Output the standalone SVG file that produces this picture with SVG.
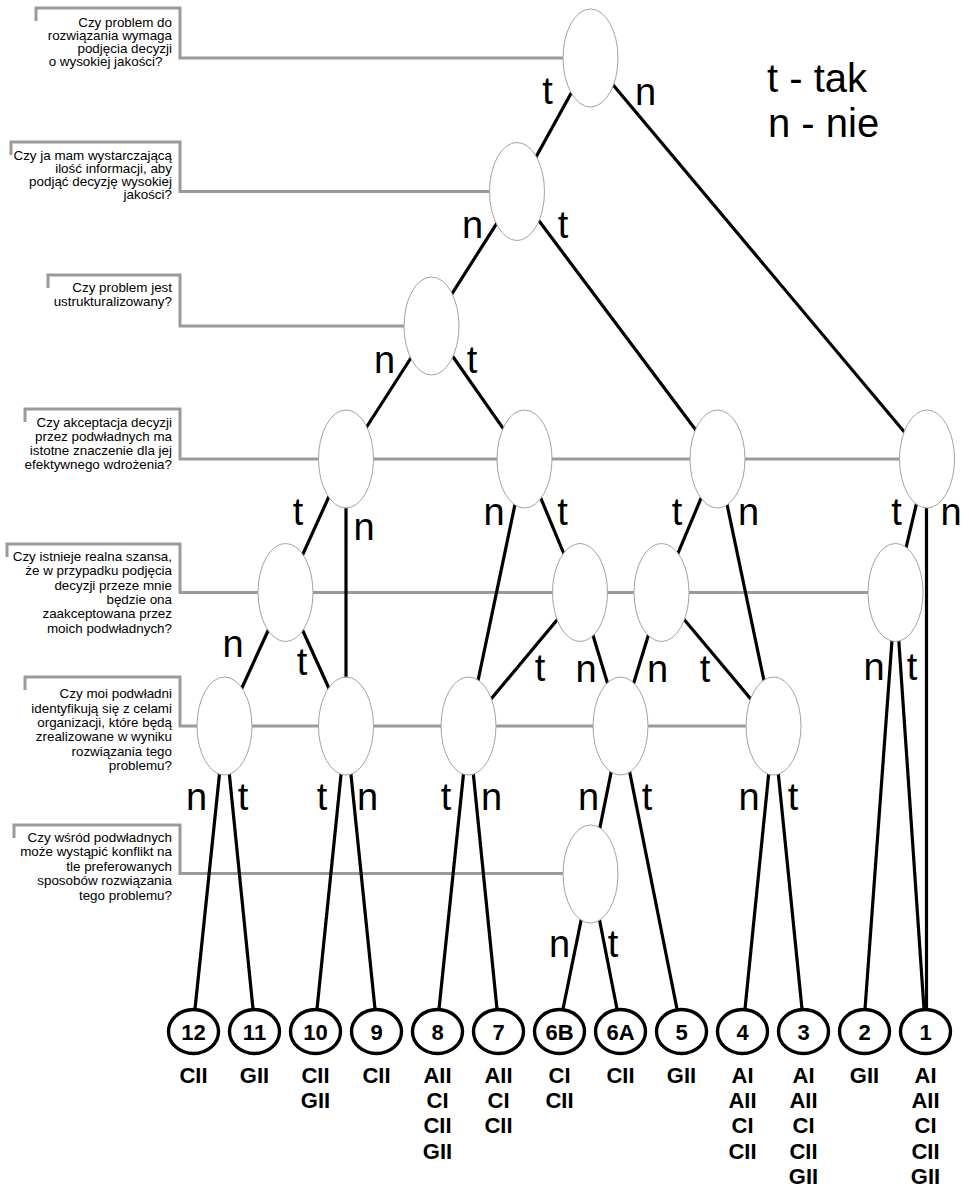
<svg xmlns="http://www.w3.org/2000/svg" width="969" height="1187" viewBox="0 0 969 1187">
<style>
.bg{fill:#fff}
.q{font-family:"Liberation Sans",Arial,sans-serif;font-size:13.4px;text-anchor:end;fill:#000}
.br{fill:none;stroke:#9a9a9a;stroke-width:3}
.nd{fill:#fff;stroke:#a3a3a3;stroke-width:1}
.e{stroke:#000;stroke-width:3.2;fill:none}
.lb{font-family:"Liberation Sans",Arial,sans-serif;font-size:38px;text-anchor:middle;fill:#000}
.lg{font-family:"Liberation Sans",Arial,sans-serif;font-size:40px;fill:#000}
.lf{fill:#fff;stroke:#000;stroke-width:3.4}
.ln{font-family:"Liberation Sans",Arial,sans-serif;font-weight:bold;font-size:22px;text-anchor:middle;fill:#000}
</style>
<rect class="bg" x="0" y="0" width="969" height="1187"/>

<g id="questions">
<g id="q1">
<path class="br" d="M36,21 V8 H180 V58 H563"/>
<text class="q"><tspan x="172" y="26.5">Czy problem do</tspan><tspan x="172" y="39.5">rozwiązania wymaga</tspan><tspan x="172" y="52.5">podjęcia decyzji</tspan><tspan x="162.5" y="65.5">o wysokiej jakości?</tspan></text>
</g>
<g id="q2">
<path class="br" d="M11,155 V142 H180 V191.5 H490"/>
<text class="q"><tspan x="172" y="159.5">Czy ja mam wystarczającą</tspan><tspan x="172" y="172.8">ilość informacji, aby</tspan><tspan x="172" y="186.1">podjąć decyzję wysokiej</tspan><tspan x="172" y="199.4">jakości?</tspan></text>
</g>
<g id="q3">
<path class="br" d="M48,288 V275 H180 V326 H404"/>
<text class="q"><tspan x="172" y="292.3">Czy problem jest</tspan><tspan x="172" y="306">ustrukturalizowany?</tspan></text>
</g>
<g id="q4">
<path class="br" d="M25,422 V409 H180 V459 H900"/>
<text class="q"><tspan x="172" y="426.7">Czy akceptacja decyzji</tspan><tspan x="172" y="440.9">przez podwładnych ma</tspan><tspan x="172" y="455.1">istotne znaczenie dla jej</tspan><tspan x="172" y="469.3">efektywnego wdrożenia?</tspan></text>
</g>
<g id="q5">
<path class="br" d="M7,557 V544 H180 V592.5 H868"/>
<text class="q"><tspan x="172" y="560.7">Czy istnieje realna szansa,</tspan><tspan x="172" y="575.1">że w przypadku podjęcia</tspan><tspan x="172" y="589.5">decyzji przeze mnie</tspan><tspan x="172" y="603.9">będzie ona</tspan><tspan x="172" y="618.3">zaakceptowana przez</tspan><tspan x="172" y="632.7">moich podwładnych?</tspan></text>
</g>
<g id="q6">
<path class="br" d="M25,690 V677 H180 V726 H746"/>
<text class="q"><tspan x="172" y="698.3">Czy moi podwładni</tspan><tspan x="172" y="712.6">identyfikują się z celami</tspan><tspan x="172" y="726.9">organizacji, które będą</tspan><tspan x="172" y="741.2">zrealizowane w wyniku</tspan><tspan x="172" y="755.5">rozwiązania tego</tspan><tspan x="172" y="769.8">problemu?</tspan></text>
</g>
<g id="q7">
<path class="br" d="M14,838 V825 H180 V873.5 H563"/>
<text class="q"><tspan x="172" y="841.7">Czy wśród podwładnych</tspan><tspan x="172" y="856.2">może wystąpić konflikt na</tspan><tspan x="172" y="870.7">tle preferowanych</tspan><tspan x="172" y="885.2">sposobów rozwiązania</tspan><tspan x="172" y="899.7">tego problemu?</tspan></text>
</g>
</g>

<g id="legend">
<text class="lg" x="767" y="92">t - tak</text>
<text class="lg" x="768" y="137">n - nie</text>
</g>

<g id="connectors">
<line class="e" x1="590.5" y1="58" x2="517" y2="191.5"/>
<line class="e" x1="590.5" y1="58" x2="927" y2="459"/>
<line class="e" x1="517" y1="191.5" x2="431.5" y2="326"/>
<line class="e" x1="517" y1="191.5" x2="717.5" y2="459"/>
<line class="e" x1="431.5" y1="326" x2="346" y2="459"/>
<line class="e" x1="431.5" y1="326" x2="524.5" y2="459"/>
<line class="e" x1="346" y1="459" x2="285.5" y2="592.5"/>
<line class="e" x1="346" y1="459" x2="346" y2="726"/>
<line class="e" x1="524.5" y1="459" x2="468.5" y2="726"/>
<line class="e" x1="524.5" y1="459" x2="580" y2="592.5"/>
<line class="e" x1="717.5" y1="459" x2="661.5" y2="592.5"/>
<line class="e" x1="717.5" y1="459" x2="773.5" y2="726"/>
<line class="e" x1="927" y1="459" x2="895.5" y2="592.5"/>
<line class="e" x1="926.5" y1="459" x2="926.5" y2="1009"/>
<line class="e" x1="285.5" y1="592.5" x2="224.5" y2="726"/>
<line class="e" x1="285.5" y1="592.5" x2="346" y2="726"/>
<line class="e" x1="580" y1="592.5" x2="468.5" y2="726"/>
<line class="e" x1="580" y1="592.5" x2="620.5" y2="726"/>
<line class="e" x1="661.5" y1="592.5" x2="620.5" y2="726"/>
<line class="e" x1="661.5" y1="592.5" x2="773.5" y2="726"/>
<line class="e" x1="895.5" y1="592.5" x2="865" y2="1009"/>
<line class="e" x1="895.5" y1="592.5" x2="924" y2="1009"/>
<line class="e" x1="224.5" y1="726" x2="195" y2="1009"/>
<line class="e" x1="224.5" y1="726" x2="253" y2="1009"/>
<line class="e" x1="346" y1="726" x2="317" y2="1009"/>
<line class="e" x1="346" y1="726" x2="375" y2="1009"/>
<line class="e" x1="468.5" y1="726" x2="439" y2="1009"/>
<line class="e" x1="468.5" y1="726" x2="497" y2="1009"/>
<line class="e" x1="620.5" y1="726" x2="590.5" y2="874"/>
<line class="e" x1="620.5" y1="726" x2="677" y2="1009"/>
<line class="e" x1="773.5" y1="726" x2="745" y2="1009"/>
<line class="e" x1="773.5" y1="726" x2="802" y2="1009"/>
<line class="e" x1="590.5" y1="874" x2="563" y2="1009"/>
<line class="e" x1="590.5" y1="874" x2="617" y2="1009"/>
</g>

<g id="edge-labels">
<text class="lb" x="547.5" y="103.5">t</text>
<text class="lb" x="645.5" y="105">n</text>
<text class="lb" x="472.5" y="238">n</text>
<text class="lb" x="563" y="238">t</text>
<text class="lb" x="384.5" y="373">n</text>
<text class="lb" x="472" y="373">t</text>
<text class="lb" x="298" y="525">t</text>
<text class="lb" x="364" y="540">n</text>
<text class="lb" x="494" y="525">n</text>
<text class="lb" x="562.5" y="525">t</text>
<text class="lb" x="677" y="525">t</text>
<text class="lb" x="748.5" y="525">n</text>
<text class="lb" x="896.5" y="525">t</text>
<text class="lb" x="951" y="525">n</text>
<text class="lb" x="233" y="657">n</text>
<text class="lb" x="302" y="675">t</text>
<text class="lb" x="540" y="681">t</text>
<text class="lb" x="586" y="682">n</text>
<text class="lb" x="657.5" y="682">n</text>
<text class="lb" x="705" y="682">t</text>
<text class="lb" x="874" y="680">n</text>
<text class="lb" x="912" y="680">t</text>
<text class="lb" x="196.5" y="810">n</text>
<text class="lb" x="243" y="810">t</text>
<text class="lb" x="322" y="810">t</text>
<text class="lb" x="367.5" y="810">n</text>
<text class="lb" x="446" y="810">t</text>
<text class="lb" x="491.5" y="810">n</text>
<text class="lb" x="588.5" y="810">n</text>
<text class="lb" x="647" y="810">t</text>
<text class="lb" x="749" y="810">n</text>
<text class="lb" x="793" y="810">t</text>
<text class="lb" x="559.5" y="957">n</text>
<text class="lb" x="613" y="957">t</text>
</g>

<g id="nodes">
<ellipse id="nA" class="nd" cx="590.5" cy="58" rx="27.5" ry="49"/>
<ellipse id="nB" class="nd" cx="517" cy="191.5" rx="27.5" ry="49"/>
<ellipse id="nC" class="nd" cx="431.5" cy="326" rx="27.5" ry="49"/>
<ellipse id="nD1" class="nd" cx="346" cy="459" rx="27.5" ry="49"/>
<ellipse id="nD2" class="nd" cx="524.5" cy="459" rx="27.5" ry="49"/>
<ellipse id="nD3" class="nd" cx="717.5" cy="459" rx="27.5" ry="49"/>
<ellipse id="nD4" class="nd" cx="927" cy="459" rx="27.5" ry="49"/>
<ellipse id="nE1" class="nd" cx="285.5" cy="592.5" rx="27.5" ry="49"/>
<ellipse id="nE2" class="nd" cx="580" cy="592.5" rx="27.5" ry="49"/>
<ellipse id="nE3" class="nd" cx="661.5" cy="592.5" rx="27.5" ry="49"/>
<ellipse id="nE4" class="nd" cx="895.5" cy="592.5" rx="27.5" ry="49"/>
<ellipse id="nF1" class="nd" cx="224.5" cy="726" rx="27.5" ry="49"/>
<ellipse id="nF2" class="nd" cx="346" cy="726" rx="27.5" ry="49"/>
<ellipse id="nF3" class="nd" cx="468.5" cy="726" rx="27.5" ry="49"/>
<ellipse id="nF4" class="nd" cx="620.5" cy="726" rx="27.5" ry="49"/>
<ellipse id="nF5" class="nd" cx="773.5" cy="726" rx="27.5" ry="49"/>
<ellipse id="nG" class="nd" cx="590.5" cy="874" rx="27.5" ry="49"/>
</g>

<g id="leaves">
<g id="leaf12"><ellipse class="lf" cx="193.5" cy="1031.5" rx="25" ry="22"/><text class="ln" x="193.5" y="1040">12</text><text class="ln" x="193.5" y="1082.7">CII</text></g>
<g id="leaf11"><ellipse class="lf" cx="254.5" cy="1031.5" rx="25" ry="22"/><text class="ln" x="254.5" y="1040">11</text><text class="ln" x="254.5" y="1082.7">GII</text></g>
<g id="leaf10"><ellipse class="lf" cx="315.5" cy="1031.5" rx="25" ry="22"/><text class="ln" x="315.5" y="1040">10</text><text class="ln"><tspan x="315.5" y="1082.7">CII</tspan><tspan x="315.5" y="1108">GII</tspan></text></g>
<g id="leaf9"><ellipse class="lf" cx="376.5" cy="1031.5" rx="25" ry="22"/><text class="ln" x="376.5" y="1040">9</text><text class="ln" x="376.5" y="1082.7">CII</text></g>
<g id="leaf8"><ellipse class="lf" cx="437.5" cy="1031.5" rx="25" ry="22"/><text class="ln" x="437.5" y="1040">8</text><text class="ln"><tspan x="437.5" y="1082.7">AII</tspan><tspan x="437.5" y="1108">CI</tspan><tspan x="437.5" y="1133.3">CII</tspan><tspan x="437.5" y="1158.6">GII</tspan></text></g>
<g id="leaf7"><ellipse class="lf" cx="498.5" cy="1031.5" rx="25" ry="22"/><text class="ln" x="498.5" y="1040">7</text><text class="ln"><tspan x="498.5" y="1082.7">AII</tspan><tspan x="498.5" y="1108">CI</tspan><tspan x="498.5" y="1133.3">CII</tspan></text></g>
<g id="leaf6B"><ellipse class="lf" cx="559.5" cy="1031.5" rx="25" ry="22"/><text class="ln" x="559.5" y="1040">6B</text><text class="ln"><tspan x="559.5" y="1082.7">CI</tspan><tspan x="559.5" y="1108">CII</tspan></text></g>
<g id="leaf6A"><ellipse class="lf" cx="620.5" cy="1031.5" rx="25" ry="22"/><text class="ln" x="620.5" y="1040">6A</text><text class="ln" x="620.5" y="1082.7">CII</text></g>
<g id="leaf5"><ellipse class="lf" cx="681.5" cy="1031.5" rx="25" ry="22"/><text class="ln" x="681.5" y="1040">5</text><text class="ln" x="681.5" y="1082.7">GII</text></g>
<g id="leaf4"><ellipse class="lf" cx="742.5" cy="1031.5" rx="25" ry="22"/><text class="ln" x="742.5" y="1040">4</text><text class="ln"><tspan x="742.5" y="1082.7">AI</tspan><tspan x="742.5" y="1108">AII</tspan><tspan x="742.5" y="1133.3">CI</tspan><tspan x="742.5" y="1158.6">CII</tspan></text></g>
<g id="leaf3"><ellipse class="lf" cx="803.5" cy="1031.5" rx="25" ry="22"/><text class="ln" x="803.5" y="1040">3</text><text class="ln"><tspan x="803.5" y="1082.7">AI</tspan><tspan x="803.5" y="1108">AII</tspan><tspan x="803.5" y="1133.3">CI</tspan><tspan x="803.5" y="1158.6">CII</tspan><tspan x="803.5" y="1183.9">GII</tspan></text></g>
<g id="leaf2"><ellipse class="lf" cx="864.5" cy="1031.5" rx="25" ry="22"/><text class="ln" x="864.5" y="1040">2</text><text class="ln" x="864.5" y="1082.7">GII</text></g>
<g id="leaf1"><ellipse class="lf" cx="925.5" cy="1031.5" rx="25" ry="22"/><text class="ln" x="925.5" y="1040">1</text><text class="ln"><tspan x="925.5" y="1082.7">AI</tspan><tspan x="925.5" y="1108">AII</tspan><tspan x="925.5" y="1133.3">CI</tspan><tspan x="925.5" y="1158.6">CII</tspan><tspan x="925.5" y="1183.9">GII</tspan></text></g>
</g>
</svg>
